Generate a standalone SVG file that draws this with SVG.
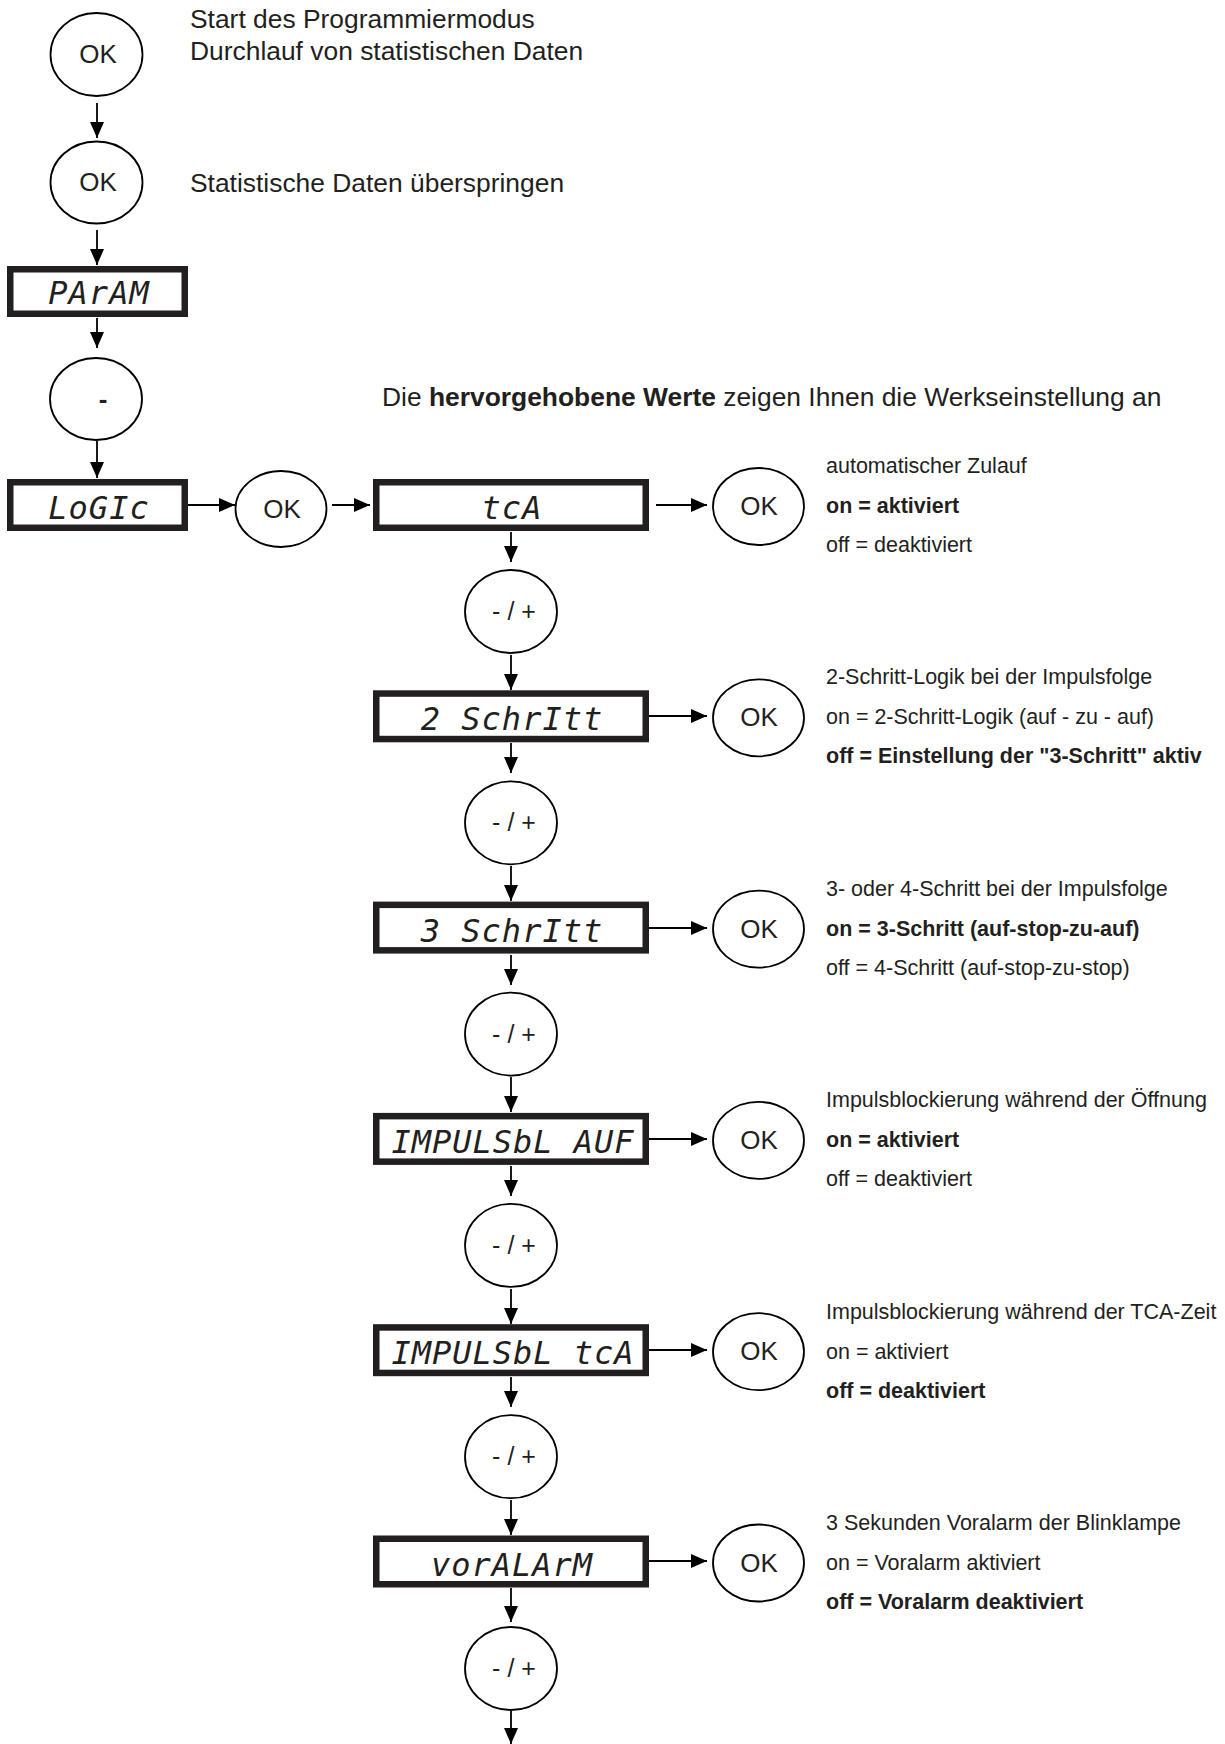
<svg xmlns="http://www.w3.org/2000/svg" width="1225" height="1744" viewBox="0 0 1225 1744">
<defs>
<style>
.bg{fill:#fff}
.c{fill:#fff;stroke:#000;stroke-width:1.8}
.box{fill:#fff;stroke:#231f20;stroke-width:6.5}
.lbl{font-family:"Liberation Sans",Arial,sans-serif;font-size:26px;fill:#231f20;text-anchor:middle}
.pm{font-size:25px}
.lcd{font-family:"DejaVu Sans Mono",monospace;font-style:oblique;font-size:32px;fill:#231f20;text-anchor:middle;letter-spacing:1px}
.t26{font-family:"Liberation Sans",Arial,sans-serif;font-size:26.4px;fill:#231f20}
.t21{font-family:"Liberation Sans",Arial,sans-serif;font-size:21.5px;fill:#231f20}
.b{font-weight:bold}
.ln{stroke:#000;stroke-width:1.8;fill:none;marker-end:url(#ah)}
</style>
<marker id="ah" viewBox="0 0 16 14" refX="16" refY="7" markerWidth="16" markerHeight="14" markerUnits="userSpaceOnUse" orient="auto">
<path d="M0,0 L16,7 L0,14 z" fill="#000"/>
</marker>
</defs>
<rect class="bg" x="0" y="0" width="1225" height="1744"/>

<g id="connectors">
<line class="ln" x1="97" y1="103" x2="97" y2="138"/>
<line class="ln" x1="97" y1="230" x2="97" y2="265"/>
<line class="ln" x1="97" y1="318" x2="97" y2="348"/>
<line class="ln" x1="97" y1="441" x2="97" y2="478"/>
<line class="ln" x1="188" y1="505" x2="235" y2="505"/>
<line class="ln" x1="332" y1="505" x2="370" y2="505"/>
<line class="ln" x1="656" y1="505" x2="707" y2="505"/>
<line class="ln" x1="511" y1="532" x2="511" y2="562"/>
<line class="ln" x1="511" y1="655" x2="511" y2="690"/>
<line class="ln" x1="649" y1="716" x2="707" y2="716"/>
<line class="ln" x1="511" y1="743" x2="511" y2="773"/>
<line class="ln" x1="511" y1="866" x2="511" y2="901"/>
<line class="ln" x1="649" y1="928" x2="707" y2="928"/>
<line class="ln" x1="511" y1="955" x2="511" y2="985"/>
<line class="ln" x1="511" y1="1077" x2="511" y2="1112"/>
<line class="ln" x1="649" y1="1139" x2="707" y2="1139"/>
<line class="ln" x1="511" y1="1166" x2="511" y2="1196"/>
<line class="ln" x1="511" y1="1289" x2="511" y2="1324"/>
<line class="ln" x1="649" y1="1350" x2="707" y2="1350"/>
<line class="ln" x1="511" y1="1377" x2="511" y2="1407"/>
<line class="ln" x1="511" y1="1500" x2="511" y2="1535"/>
<line class="ln" x1="649" y1="1561" x2="707" y2="1561"/>
<line class="ln" x1="511" y1="1588" x2="511" y2="1622"/>
<line class="ln" x1="511" y1="1711" x2="511" y2="1744"/>
</g>

<g id="ok-start"><ellipse class="c" cx="96.5" cy="54.5" rx="46" ry="41.5"/><text class="lbl" x="98" y="63">OK</text></g>
<g id="ok-skip"><ellipse class="c" cx="96.5" cy="182.5" rx="46" ry="41"/><text class="lbl" x="98" y="191">OK</text></g>
<g id="param"><rect class="box" x="10.25" y="269.25" width="174.5" height="44.5"/><text class="lcd" x="99" y="304">PArAM</text></g>
<g id="minus"><ellipse class="c" cx="96" cy="399" rx="46" ry="41"/><text class="lbl b" x="103" y="408">-</text></g>
<g id="logic"><rect class="box" x="10.25" y="482.25" width="174.5" height="45.5"/><text class="lcd" x="99" y="519">LoGIc</text></g>
<g id="ok-logic"><ellipse class="c" cx="281" cy="509" rx="45.5" ry="38"/><text class="lbl" x="282" y="518">OK</text></g>

<g id="tca"><rect class="box" x="376.25" y="482.25" width="269.5" height="45.5"/><text class="lcd" x="512" y="519">tcA</text></g>
<g id="ok-tca"><ellipse class="c" cx="758.5" cy="506.5" rx="45.5" ry="38.5"/><text class="lbl" x="759" y="515">OK</text></g>
<g id="pm1"><ellipse class="c" cx="511" cy="611.5" rx="46" ry="41.5"/><text class="lbl pm" x="514" y="620">- / +</text></g>

<g id="schritt2"><rect class="box" x="376.25" y="693.55" width="269.5" height="45.5"/><text class="lcd" x="512" y="730">2 SchrItt</text></g>
<g id="ok-schritt2"><ellipse class="c" cx="758.5" cy="717.8" rx="45.5" ry="38.5"/><text class="lbl" x="759" y="726">OK</text></g>
<g id="pm2"><ellipse class="c" cx="511" cy="822.8" rx="46" ry="41.5"/><text class="lbl pm" x="514" y="831">- / +</text></g>

<g id="schritt3"><rect class="box" x="376.25" y="904.85" width="269.5" height="45.5"/><text class="lcd" x="512" y="942">3 SchrItt</text></g>
<g id="ok-schritt3"><ellipse class="c" cx="758.5" cy="929.1" rx="45.5" ry="38.5"/><text class="lbl" x="759" y="938">OK</text></g>
<g id="pm3"><ellipse class="c" cx="511" cy="1034.1" rx="46" ry="41.5"/><text class="lbl pm" x="514" y="1043">- / +</text></g>

<g id="impauf"><rect class="box" x="376.25" y="1116.15" width="269.5" height="45.5"/><text class="lcd" x="513" y="1153">IMPULSbL AUF</text></g>
<g id="ok-impauf"><ellipse class="c" cx="758.5" cy="1140.4" rx="45.5" ry="38.5"/><text class="lbl" x="759" y="1149">OK</text></g>
<g id="pm4"><ellipse class="c" cx="511" cy="1245.4" rx="46" ry="41.5"/><text class="lbl pm" x="514" y="1254">- / +</text></g>

<g id="imptca"><rect class="box" x="376.25" y="1327.45" width="269.5" height="45.5"/><text class="lcd" x="513" y="1364">IMPULSbL tcA</text></g>
<g id="ok-imptca"><ellipse class="c" cx="758.5" cy="1351.7" rx="45.5" ry="38.5"/><text class="lbl" x="759" y="1360">OK</text></g>
<g id="pm5"><ellipse class="c" cx="511" cy="1456.7" rx="46" ry="41.5"/><text class="lbl pm" x="514" y="1465">- / +</text></g>

<g id="voralarm"><rect class="box" x="376.25" y="1538.75" width="269.5" height="45.5"/><text class="lcd" x="512" y="1576">vorALArM</text></g>
<g id="ok-voralarm"><ellipse class="c" cx="758.5" cy="1563" rx="45.5" ry="38.5"/><text class="lbl" x="759" y="1572">OK</text></g>
<g id="pm6"><ellipse class="c" cx="511" cy="1668.5" rx="46" ry="41.5"/><text class="lbl pm" x="514" y="1677">- / +</text></g>

<g id="notes">
<text class="t26" x="190" y="28">Start des Programmiermodus</text>
<text class="t26" x="190" y="60">Durchlauf von statistischen Daten</text>
<text class="t26" x="190" y="192">Statistische Daten überspringen</text>
<text class="t26" x="382" y="406">Die <tspan class="b">hervorgehobene Werte</tspan> zeigen Ihnen die Werkseinstellung an</text>

<text class="t21" x="826" y="473">automatischer Zulauf</text>
<text class="t21 b" x="826" y="513">on = aktiviert</text>
<text class="t21" x="826" y="552">off = deaktiviert</text>

<text class="t21" x="826" y="684">2-Schritt-Logik bei der Impulsfolge</text>
<text class="t21" x="826" y="724">on = 2-Schritt-Logik (auf - zu - auf)</text>
<text class="t21 b" x="826" y="763">off = Einstellung der "3-Schritt" aktiv</text>

<text class="t21" x="826" y="896">3- oder 4-Schritt bei der Impulsfolge</text>
<text class="t21 b" x="826" y="936">on = 3-Schritt (auf-stop-zu-auf)</text>
<text class="t21" x="826" y="975">off = 4-Schritt (auf-stop-zu-stop)</text>

<text class="t21" x="826" y="1107">Impulsblockierung während der Öffnung</text>
<text class="t21 b" x="826" y="1147">on = aktiviert</text>
<text class="t21" x="826" y="1186">off = deaktiviert</text>

<text class="t21" x="826" y="1319">Impulsblockierung während der TCA-Zeit</text>
<text class="t21" x="826" y="1359">on = aktiviert</text>
<text class="t21 b" x="826" y="1398">off = deaktiviert</text>

<text class="t21" x="826" y="1530">3 Sekunden Voralarm der Blinklampe</text>
<text class="t21" x="826" y="1570">on = Voralarm aktiviert</text>
<text class="t21 b" x="826" y="1609">off = Voralarm deaktiviert</text>
</g>
</svg>
